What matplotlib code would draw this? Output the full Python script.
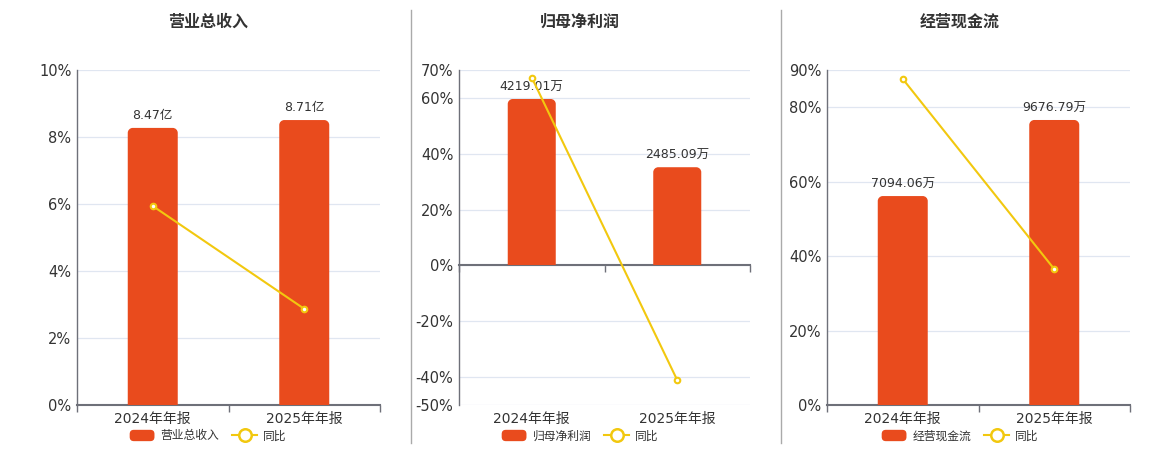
import matplotlib.pyplot as plt
import numpy as np
from matplotlib.path import Path
from matplotlib.patches import PathPatch, Patch, FancyBboxPatch
from matplotlib.lines import Line2D
from matplotlib.legend_handler import HandlerPatch
from matplotlib.transforms import blended_transform_factory

plt.rcParams['font.family'] = ['DejaVu Sans', 'Noto Sans CJK SC']

# data
periods = ['2024年年报', '2025年年报']
titles = ['营业总收入', '归母净利润', '经营现金流']
revenue = [8.47, 8.71]          # 亿
net_profit = [4219.01, 2485.09]  # 万
op_cash = [7094.06, 9676.79]     # 万
revenue_labels = ['8.47亿', '8.71亿']
net_profit_labels = ['4219.01万', '2485.09万']
op_cash_labels = ['7094.06万', '9676.79万']
revenue_yoy = [5.94, 2.87]
net_profit_yoy = [67.3, -41.1]
op_cash_yoy = [87.6, 36.5]
pct_ticks_1 = [0, 2, 4, 6, 8, 10]
pct_ticks_2 = [-50, -40, -20, 0, 20, 40, 60, 70]
pct_ticks_3 = [0, 20, 40, 60, 80, 90]

bar_color = '#E94B1D'
line_color = '#F2C80F'
axis_color = '#6E7079'
grid_color = '#E0E6F1'
text_color = '#333333'

W, H = 1160, 450
fig = plt.figure(figsize=(W / 100, H / 100), dpi=100)

panels = [
    dict(title=titles[0], bars=revenue, labels=revenue_labels, yoy=revenue_yoy,
         ticks=pct_ticks_1, bar_lim=(0, 10.24), left=77, width=303, cx=208),
    dict(title=titles[1], bars=net_profit, labels=net_profit_labels, yoy=net_profit_yoy,
         ticks=pct_ticks_2, bar_lim=(-3558, 4956), left=459, width=291, cx=580),
    dict(title=titles[2], bars=op_cash, labels=op_cash_labels, yoy=op_cash_yoy,
         ticks=pct_ticks_3, bar_lim=(0, 11374), left=827, width=303, cx=960),
]


def rounded_bar(ax, x, width, height, r_px, color):
    # bar with rounded top corners, radius given in pixels
    pos = ax.get_position()
    w_px = pos.width * W
    h_px = pos.height * H
    x0, x1 = ax.get_xlim()
    y0, y1 = ax.get_ylim()
    rx = r_px * (x1 - x0) / w_px
    ry = r_px * (y1 - y0) / h_px
    l, r = x - width / 2, x + width / 2
    k = 0.5523
    verts = [(l, 0), (l, height - ry), (l, height - ry + k * ry), (l + rx - k * rx, height),
             (l + rx, height), (r - rx, height), (r - rx + k * rx, height),
             (r, height - ry + k * ry), (r, height - ry), (r, 0), (l, 0)]
    codes = [Path.MOVETO, Path.LINETO, Path.CURVE4, Path.CURVE4, Path.CURVE4, Path.LINETO,
             Path.CURVE4, Path.CURVE4, Path.CURVE4, Path.LINETO, Path.CLOSEPOLY]
    ax.add_patch(PathPatch(Path(verts, codes), facecolor=color, edgecolor='none'))


def round_handle(legend, orig_handle, xdescent, ydescent, width, height, fontsize):
    return FancyBboxPatch((-xdescent, -ydescent), width, height,
                          boxstyle='round,pad=0,rounding_size=3')


for p in panels:
    rect = [p['left'] / W, 1 - 405 / H, p['width'] / W, 335 / H]
    ax = fig.add_axes(rect)
    ticks = p['ticks']
    ax.set_xlim(-0.5, 1.5)
    ax.set_ylim(ticks[0], ticks[-1])
    ax.set_yticks(ticks)
    ax.set_yticklabels([f'{t}%' for t in ticks], fontsize=10.5, color=text_color)
    ax.tick_params(axis='y', length=0, pad=4)
    ax.grid(axis='y', color=grid_color, linewidth=0.9)
    ax.set_axisbelow(True)
    for s in ['top', 'right']:
        ax.spines[s].set_visible(False)
    for s in ['left', 'bottom']:
        ax.spines[s].set_color(axis_color)
        ax.spines[s].set_linewidth(1)
    ax.spines['bottom'].set_linewidth(1.5)
    if ticks[0] < 0:
        ax.spines['bottom'].set_position(('data', 0))
    ax.set_xticks([-0.5, 0.5, 1.5])
    ax.set_xticklabels([])
    ax.tick_params(axis='x', length=5, color=axis_color, width=1)
    trans = blended_transform_factory(ax.transData, ax.transAxes)
    for i, per in enumerate(periods):
        ax.text(i, -0.022, per, transform=trans, ha='center', va='top',
                fontsize=10, color=text_color)

    # bars on hidden scale
    axb = ax.twinx()
    axb.set_ylim(*p['bar_lim'])
    axb.set_xlim(-0.5, 1.5)
    axb.axis('off')
    for i, v in enumerate(p['bars']):
        rounded_bar(axb, i, 0.33, v, 5, bar_color)
        axb.annotate(p['labels'][i], (i, v), xytext=(0, 4), textcoords='offset points',
                     ha='center', va='bottom', fontsize=9, color=text_color)

    # yoy line on the percent scale
    axl = ax.twinx()
    axl.set_ylim(ticks[0], ticks[-1])
    axl.set_xlim(-0.5, 1.5)
    axl.axis('off')
    axl.plot(range(len(p['yoy'])), p['yoy'], color=line_color, linewidth=1.5,
             marker='o', markersize=4, markerfacecolor='white',
             markeredgecolor=line_color, markeredgewidth=1.5)

    handles = [Patch(facecolor=bar_color, edgecolor='none'),
               Line2D([], [], color=line_color, linewidth=1.5, marker='o', markersize=9,
                      markerfacecolor='white', markeredgecolor=line_color, markeredgewidth=1.8)]
    fig.legend(handles, [p['title'], '同比'], loc='center',
               bbox_to_anchor=(p['cx'] / W, 1 - 436 / H), ncol=2, frameon=False,
               fontsize=8.5, labelcolor=text_color, handlelength=2.1, handleheight=1.1,
               handletextpad=0.5, columnspacing=1.1,
               handler_map={Patch: HandlerPatch(patch_func=round_handle)})

    fig.text(p['cx'] / W, 1 - 22 / H, p['title'], ha='center', va='center',
             fontsize=11.5, fontweight='bold', color=text_color)

# panel separators
for xs in [410.5, 780.5]:
    fig.add_artist(Line2D([xs / W, xs / W], [1 - 10 / H, 1 - 443 / H],
                          color='#AAAAAA', linewidth=1))

fig.savefig('out.png', dpi=100)
